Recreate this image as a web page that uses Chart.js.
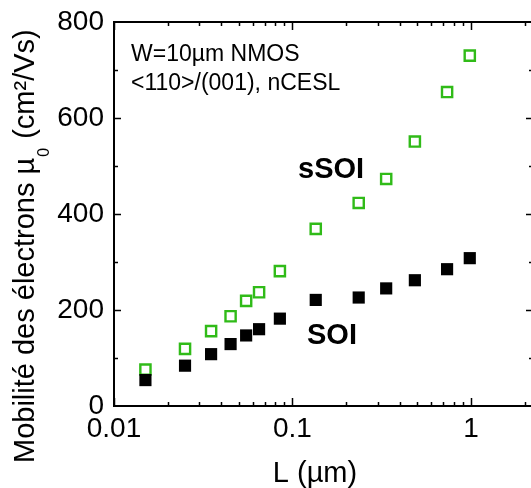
<!DOCTYPE html>
<html>
<head>
<meta charset="utf-8">
<script src="https://cdn.jsdelivr.net/npm/chart.js@4"></script>
<style>
  html, body { margin: 0; padding: 0; background: #fff; }
  canvas { display: block; }
</style>
</head>
<body>
<canvas id="chart1" width="531" height="488"></canvas>
<script>
// gate length L (um) and low-field mobility (cm2/Vs)
var lengths = [0.015, 0.025, 0.035, 0.045, 0.055, 0.065, 0.085, 0.135, 0.235, 0.335, 0.485, 0.735, 0.985];
var ssoiMobility = [76, 119, 156, 187, 219, 237, 281, 369, 423, 473, 551, 654, 730];
var soiMobility = [54, 84, 108, 129, 147, 160, 182, 221, 226, 245, 262, 285, 308];
var xTickLabels = ["0.01", "0.1", "1"];
var yTickLabels = ["0", "200", "400", "600", "800"];

var FONT = "'Liberation Sans', Arial, sans-serif";
var GREEN = "#30bb18";

function toPoints(ys) {
    return lengths.map(function (l, i) { return { x: l, y: ys[i] }; });
}

// inward ticks, frame and text labels
var framePlugin = {
    id: 'frame',
    afterDraw: function (chart) {
        var ctx = chart.ctx;
        var a = chart.chartArea;
        var xs = chart.scales.x;
        var ys = chart.scales.y;
        ctx.save();
        ctx.strokeStyle = '#000';
        ctx.lineWidth = 2;
        ctx.beginPath();
        ctx.moveTo(a.left, a.top - 1);
        ctx.lineTo(a.left, a.bottom);
        ctx.moveTo(a.left - 1, a.bottom);
        ctx.lineTo(chart.width, a.bottom);
        ctx.moveTo(a.left - 1, a.top);
        ctx.lineTo(chart.width, a.top);
        ctx.stroke();

        ctx.lineWidth = 1.5;
        ctx.beginPath();
        xs.ticks.forEach(function (t) {
            var v = t.value;
            var p = Math.pow(10, Math.floor(Math.log10(v) + 1e-9));
            var m = Math.round(v / p * 1000) / 1000;
            if (m !== Math.round(m) || m < 1 || m > 9) return;
            var len = m === 1 ? 8 : 4;
            var px = Math.round(xs.getPixelForValue(v)) + 0.5;
            ctx.moveTo(px, a.bottom);
            ctx.lineTo(px, a.bottom - len);
            ctx.moveTo(px, a.top);
            ctx.lineTo(px, a.top + len);
        });
        ys.ticks.forEach(function (t) {
            var v = t.value;
            if (v <= 0 || v >= 800) return;
            var major = v % 200 === 0;
            var py = Math.round(ys.getPixelForValue(v)) + 0.5;
            ctx.moveTo(a.left, py);
            ctx.lineTo(a.left + (major ? 7 : 4), py);
            ctx.moveTo(533, py);
            ctx.lineTo(533 - (major ? 7 : 4), py);
        });
        ctx.stroke();

        ctx.fillStyle = '#000';
        ctx.textBaseline = 'alphabetic';
        ctx.textAlign = 'left';
        ctx.font = '23px ' + FONT;
        ctx.fillText('W=10\u00b5m NMOS', 131, 61);
        ctx.fillText('<110>/(001), nCESL', 131, 90);

        ctx.font = 'bold 29px ' + FONT;
        ctx.fillText('sSOI', 298, 178);
        ctx.fillText('SOI', 307, 344);

        ctx.font = '29px ' + FONT;
        ctx.textAlign = 'center';
        ctx.fillText('L (\u00b5m)', 315, 482);

        // y title, rotated, with subscript 0
        ctx.rotate(-Math.PI / 2);
        ctx.textAlign = 'left';
        var x0 = -463;
        var part1 = 'Mobilit\u00e9 des \u00e9lectrons \u00b5';
        ctx.font = '29px ' + FONT;
        ctx.fillText(part1, x0, 34);
        x0 += ctx.measureText(part1).width;
        ctx.font = '16px ' + FONT;
        ctx.fillText('0', x0 + 1, 49);
        x0 += ctx.measureText('0').width + 2;
        ctx.font = '29px ' + FONT;
        ctx.fillText(' (cm\u00b2/Vs)', x0, 34);
        ctx.restore();
    }
};

var options = {
    responsive: false,
    animation: false,
    devicePixelRatio: 1,
    layout: {
        autoPadding: false,
        padding: { top: 22, right: 0, left: 0, bottom: 0 }
    },
    plugins: {
        legend: { display: false },
        tooltip: { enabled: false }
    },
    scales: {
        x: {
            type: 'logarithmic',
            min: 0.01,
            max: 2.17,
            grid: { display: false, drawTicks: false },
            border: { display: false },
            ticks: {
                autoSkip: false,
                maxRotation: 0,
                padding: 6,
                color: '#000',
                font: { family: FONT, size: 28 },
                callback: function (value) {
                    var s = String(Math.round(value * 1000) / 1000);
                    return xTickLabels.indexOf(s) >= 0 ? s : '';
                }
            },
            afterFit: function (scale) {
                scale.height = 82;
                scale.paddingLeft = 0;
                scale.paddingRight = 0;
            }
        },
        y: {
            min: 0,
            max: 800,
            grid: { display: false, drawTicks: false },
            border: { display: false },
            ticks: {
                stepSize: 100,
                padding: 10,
                color: '#000',
                font: { family: FONT, size: 28 },
                callback: function (value) {
                    var s = String(value);
                    return yTickLabels.indexOf(s) >= 0 ? s : '';
                }
            },
            afterFit: function (scale) {
                scale.width = 114;
                scale.paddingTop = 0;
                scale.paddingBottom = 0;
            }
        }
    }
};

var chart = new Chart(document.getElementById('chart1').getContext('2d'), {
    type: 'scatter',
    data: {
        datasets: [
            {
                label: 'SOI',
                data: toPoints(soiMobility),
                pointStyle: 'rect',
                pointRadius: 8.6,
                backgroundColor: '#000',
                borderColor: '#000',
                borderWidth: 0
            },
            {
                label: 'sSOI',
                data: toPoints(ssoiMobility),
                pointStyle: 'rect',
                pointRadius: 7.2,
                backgroundColor: 'rgba(255,255,255,0)',
                borderColor: GREEN,
                borderWidth: 2.4
            }
        ]
    },
    options: options,
    plugins: [framePlugin]
});
</script>
</body>
</html>
